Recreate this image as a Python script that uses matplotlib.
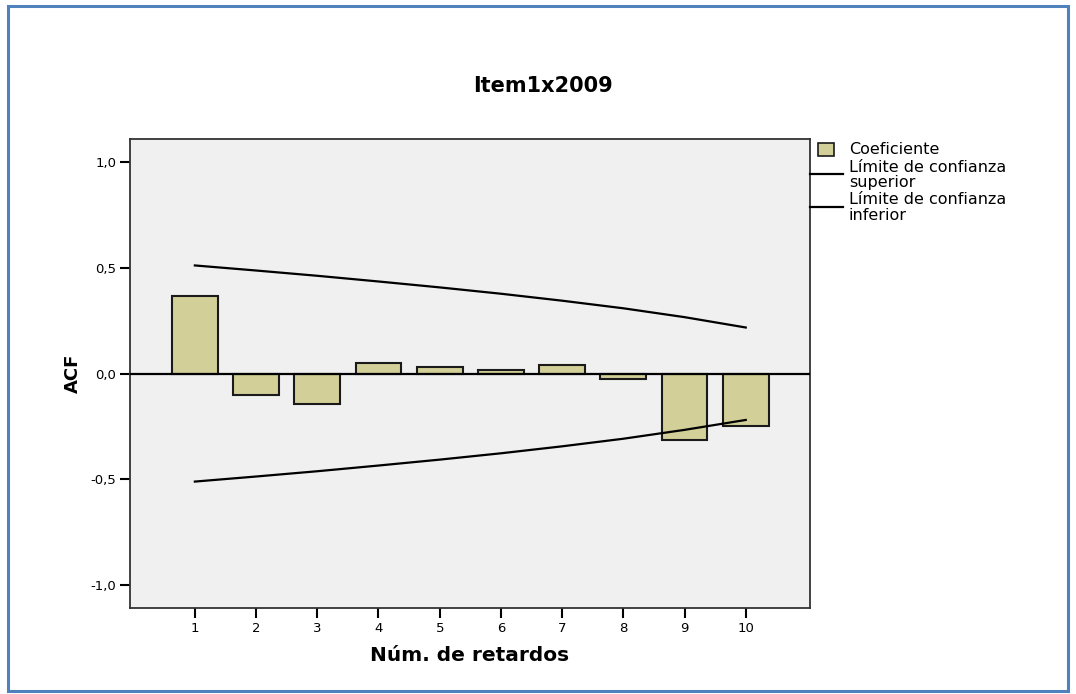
import numpy as np
import matplotlib
matplotlib.use("Agg")
import matplotlib.pyplot as plt
from matplotlib.patches import Rectangle
from matplotlib.lines import Line2D

plt.rcParams['font.family'] = ['DejaVu Sans']

# data
lags = [1, 2, 3, 4, 5, 6, 7, 8, 9, 10]
acf = [0.367, -0.102, -0.145, 0.048, 0.029, 0.016, 0.040, -0.024, -0.313, -0.250]
upper = [0.512, 0.488, 0.463, 0.436, 0.408, 0.378, 0.345, 0.309, 0.267, 0.218]
lower = [-0.512, -0.488, -0.463, -0.436, -0.408, -0.378, -0.345, -0.309, -0.267, -0.220]
yticks = [-1.0, -0.5, 0.0, 0.5, 1.0]

bar_color = '#d3cf98'
W, H = 1076, 694


def px(x, y):
    # pixel position (from top left) to figure fraction
    return x / W, 1 - y / H


fig = plt.figure(figsize=[W / 100, H / 100], dpi=100)
ax = fig.add_axes([0.1208, 0.1239, 0.632, 0.6758])
ax.set_facecolor('#f0f0f0')

ax.bar(lags, acf, width=0.75, color=bar_color, edgecolor='#1a1a1a', linewidth=1.5, zorder=2)
ax.axhline(0, color='black', lw=1.6, zorder=3)
ax.plot(lags, upper, color='black', lw=1.6, zorder=4)
ax.plot(lags, lower, color='black', lw=1.6, zorder=4)

ax.set_xlim(-0.06, 11.05)
ax.set_ylim(-1.111, 1.111)
ax.set_xticks(lags)
ax.set_xticklabels([str(l) for l in lags])
ax.set_yticks(yticks)
ax.set_yticklabels([('%.1f' % v).replace('.', ',') for v in yticks])
ax.tick_params(direction='out', length=7, width=1.5, labelsize=9.5, pad=3, colors='black')
for s in ax.spines.values():
    s.set_linewidth(1.3)
    s.set_color('#333333')

ax.set_xlabel('Núm. de retardos', fontsize=14.5, fontweight='bold', labelpad=8)
ax.set_ylabel('ACF', fontsize=13, fontweight='bold', labelpad=6)
fig.text(*px(543, 86), 'Item1x2009', ha='center', va='center', fontsize=15, fontweight='bold')

# legend outside right, placed by hand
leg_fs = 11.5
fig.patches.append(Rectangle(px(818, 156), 16 / W, 13 / H, transform=fig.transFigure,
                             facecolor=bar_color, edgecolor='#1a1a1a', linewidth=1.2))
fig.text(*px(849, 150), 'Coeficiente', ha='left', va='center', fontsize=leg_fs)
for ly, words in [(174, ('Límite de confianza', 'superior')),
                  (207, ('Límite de confianza', 'inferior'))]:
    x0, y0 = px(810, ly)
    x1, _ = px(843, ly)
    fig.lines.append(Line2D([x0, x1], [y0, y0], transform=fig.transFigure,
                            color='black', lw=1.6))
    fig.text(*px(849, ly - 7), words[0], ha='left', va='center', fontsize=leg_fs)
    fig.text(*px(849, ly + 8), words[1], ha='left', va='center', fontsize=leg_fs)

# blue frame around the whole picture
fig.patches.append(Rectangle((8 / W, 3 / H), 1060 / W, 685 / H,
                             transform=fig.transFigure, fill=False,
                             edgecolor='#4f81bd', linewidth=2.2))

fig.savefig('out.png', dpi=100)
